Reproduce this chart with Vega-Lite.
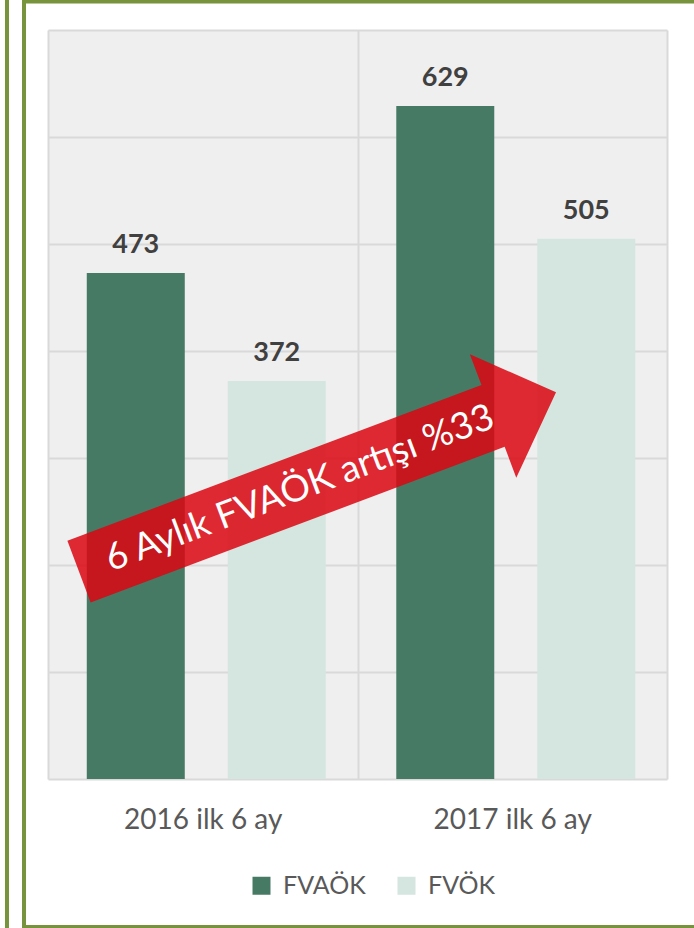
{
  "$schema": "https://vega.github.io/schema/vega-lite/v6.json",
  "width": 619,
  "height": 749,
  "autosize": {"type": "none"},
  "padding": {"left": 48, "top": 30, "right": 27, "bottom": 149},
  "background": "white",
  "config": {"view": {"stroke": null, "fill": "#efefef"}, "font": "Lato"},
  "layer": [
    {
      "data": {
        "values": [
          {"period": "2016 ilk 6 ay", "series": "FVAÖK", "value": 473},
          {"period": "2016 ilk 6 ay", "series": "FVÖK", "value": 372},
          {"period": "2017 ilk 6 ay", "series": "FVAÖK", "value": 629},
          {"period": "2017 ilk 6 ay", "series": "FVÖK", "value": 505}
        ]
      },
      "encoding": {
        "x": {
          "field": "period",
          "type": "nominal",
          "sort": ["2016 ilk 6 ay", "2017 ilk 6 ay"],
          "scale": {"paddingInner": 0, "paddingOuter": 0},
          "axis": {
            "title": null,
            "labelAngle": 0,
            "labelFont": "Lato",
            "labelFontSize": 28,
            "labelColor": "#595959",
            "labelPadding": 27,
            "ticks": false,
            "tickSize": 0,
            "domain": false,
            "grid": true,
            "tickBand": "extent",
            "gridColor": "#d9d9d9",
            "gridWidth": 2
          }
        },
        "xOffset": {
          "field": "series",
          "type": "nominal",
          "sort": ["FVAÖK", "FVÖK"],
          "scale": {"paddingInner": 0.305, "paddingOuter": 0.25, "align": 0.55}
        },
        "y": {
          "field": "value",
          "type": "quantitative",
          "scale": {"domain": [0, 700], "nice": false},
          "axis": {
            "title": null,
            "values": [0, 100, 200, 300, 400, 500, 600, 700],
            "labels": false,
            "ticks": false,
            "domain": false,
            "grid": true,
            "gridColor": "#d9d9d9",
            "gridWidth": 2
          }
        }
      },
      "layer": [
        {
          "mark": {"type": "bar"},
          "encoding": {
            "color": {
              "field": "series",
              "type": "nominal",
              "sort": ["FVAÖK", "FVÖK"],
              "scale": {"domain": ["FVAÖK", "FVÖK"], "range": ["#477a64", "#d5e5df"]},
              "legend": {
                "title": null,
                "orient": "none",
                "direction": "horizontal",
                "legendX": 201,
                "legendY": 843,
                "padding": 0,
                "symbolType": "square",
                "symbolSize": 324,
                "symbolStrokeWidth": 0,
                "labelFont": "Lato",
                "labelFontSize": 25,
                "labelColor": "#595959",
                "labelOffset": 9,
                "columnPadding": 28
              }
            }
          }
        },
        {
          "mark": {
            "type": "text",
            "baseline": "alphabetic",
            "dy": -20,
            "fontSize": 27,
            "fontWeight": "bold",
            "font": "Lato",
            "color": "#404040"
          },
          "encoding": {"text": {"field": "value", "type": "quantitative"}}
        }
      ]
    },
    {
      "data": {"values": [{}]},
      "layer": [
        {
          "mark": {
            "type": "point",
            "shape": "M -1 -0.1295 L 0.736 -0.1295 L 0.736 -0.259 L 1 0 L 0.736 0.259 L 0.736 0.1295 L -1 0.1295 Z",
            "size": 259700,
            "angle": -20.6,
            "filled": true,
            "color": "#dc0611",
            "opacity": 0.85,
            "strokeWidth": 0
          },
          "encoding": {
            "x": {"datum": 0.8708, "type": "quantitative", "scale": {"domain": [0, 2], "nice": false, "zero": false}, "axis": null},
            "y": {"datum": 277.6, "type": "quantitative"}
          }
        },
        {
          "mark": {
            "type": "text",
            "text": "6 Aylık FVAÖK artışı %33",
            "angle": -20.6,
            "align": "center",
            "baseline": "middle",
            "font": "Lato",
            "fontSize": 37,
            "color": "white"
          },
          "encoding": {
            "x": {"datum": 0.814, "type": "quantitative"},
            "y": {"datum": 271.3, "type": "quantitative"}
          }
        },
        {
          "mark": {"type": "rect", "fill": "transparent", "stroke": "#77933c", "strokeWidth": 4, "clip": false},
          "encoding": {
            "x": {"datum": -0.0775, "type": "quantitative"},
            "x2": {"datum": 2.12},
            "y": {"datum": 726.6, "type": "quantitative"},
            "y2": {"datum": -138.3}
          }
        },
        {
          "mark": {"type": "rule", "color": "#77933c", "strokeWidth": 4, "clip": false},
          "encoding": {
            "x": {"datum": -0.1325, "type": "quantitative"},
            "y": {"datum": 760, "type": "quantitative"},
            "y2": {"datum": -160}
          }
        }
      ]
    }
  ],
  "resolve": {"scale": {"x": "independent"}}
}
